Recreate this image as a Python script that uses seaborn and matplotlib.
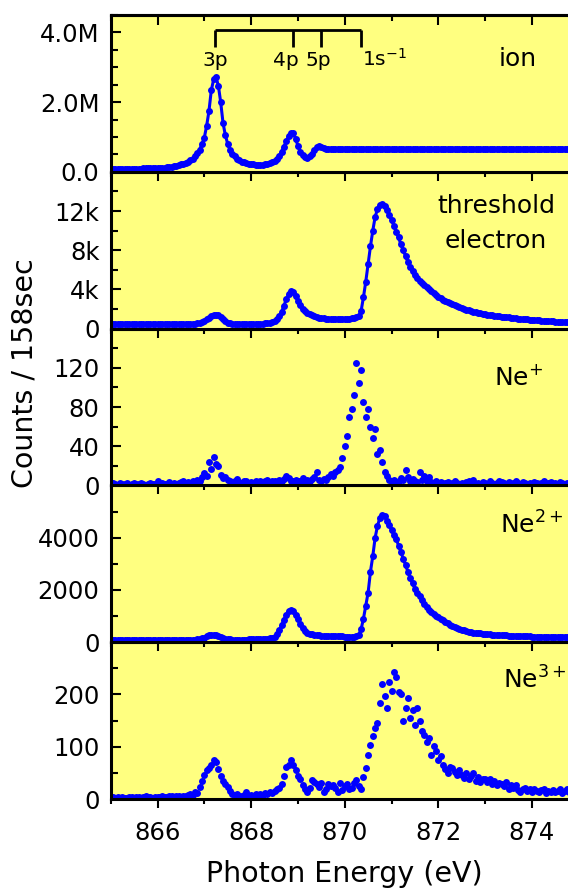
import numpy as np
import pandas as pd
import matplotlib
matplotlib.use("Agg")
import matplotlib.pyplot as plt
import seaborn as sns
from matplotlib.ticker import MultipleLocator

# photon energy scan grid (eV), 0.05 eV steps from 865.00 to 874.80
energy = np.round(865.0 + 0.05 * np.arange(197), 2)

# total ion yield (millions of counts)
ion_M = [
    0.08, 0.08, 0.08, 0.08, 0.08, 0.08, 0.08, 0.09, 0.09, 0.09,
    0.09, 0.09, 0.09, 0.09, 0.10, 0.10, 0.10, 0.10, 0.10, 0.11,
    0.11, 0.11, 0.12, 0.12, 0.13, 0.14, 0.15, 0.16, 0.17, 0.19,
    0.21, 0.23, 0.26, 0.29, 0.33, 0.37, 0.45, 0.53, 0.64, 0.80,
    0.98, 1.32, 1.75, 2.35, 2.65, 2.72, 2.47, 2.00, 1.40, 1.05,
    0.80, 0.62, 0.50, 0.44, 0.38, 0.33, 0.29, 0.27, 0.25, 0.23,
    0.22, 0.21, 0.20, 0.20, 0.20, 0.20, 0.21, 0.22, 0.24, 0.27,
    0.31, 0.37, 0.46, 0.58, 0.72, 0.88, 1.02, 1.10, 1.10, 0.95,
    0.75, 0.58, 0.47, 0.42, 0.41, 0.44, 0.52, 0.62, 0.70, 0.73,
    0.71, 0.67, 0.65, 0.65, 0.65, 0.65, 0.65, 0.65, 0.65, 0.65,
    0.65, 0.65, 0.65, 0.65, 0.65, 0.65, 0.65, 0.65, 0.65, 0.65,
    0.65, 0.65, 0.65, 0.65, 0.65, 0.65, 0.65, 0.65, 0.65, 0.65,
    0.65, 0.65, 0.65, 0.65, 0.65, 0.65, 0.65, 0.65, 0.65, 0.65,
    0.65, 0.65, 0.65, 0.65, 0.65, 0.65, 0.65, 0.65, 0.65, 0.65,
    0.65, 0.65, 0.65, 0.65, 0.65, 0.65, 0.65, 0.65, 0.65, 0.65,
    0.65, 0.65, 0.65, 0.65, 0.65, 0.65, 0.65, 0.66, 0.66, 0.66,
    0.66, 0.66, 0.66, 0.66, 0.66, 0.66, 0.66, 0.66, 0.66, 0.66,
    0.66, 0.66, 0.66, 0.66, 0.66, 0.66, 0.66, 0.66, 0.66, 0.66,
    0.66, 0.66, 0.66, 0.66, 0.66, 0.66, 0.66, 0.66, 0.66, 0.66,
    0.66, 0.66, 0.66, 0.66, 0.66, 0.66, 0.66,
]

# threshold electrons (thousands of counts)
threshold_k = [
    0.42, 0.42, 0.42, 0.42, 0.42, 0.42, 0.42, 0.42, 0.42, 0.42,
    0.42, 0.42, 0.43, 0.43, 0.43, 0.43, 0.43, 0.43, 0.43, 0.43,
    0.43, 0.43, 0.43, 0.44, 0.44, 0.44, 0.44, 0.45, 0.45, 0.46,
    0.46, 0.47, 0.47, 0.48, 0.49, 0.50, 0.52, 0.55, 0.60, 0.68,
    0.80, 0.95, 1.10, 1.25, 1.35, 1.40, 1.35, 1.15, 0.95, 0.75,
    0.62, 0.55, 0.50, 0.48, 0.47, 0.46, 0.46, 0.46, 0.46, 0.47,
    0.47, 0.48, 0.48, 0.49, 0.50, 0.52, 0.55, 0.58, 0.62, 0.68,
    0.75, 0.95, 1.25, 1.70, 2.30, 3.00, 3.50, 3.80, 3.75, 3.30,
    2.80, 2.40, 2.05, 1.80, 1.60, 1.45, 1.35, 1.25, 1.18, 1.12,
    1.08, 1.05, 1.03, 1.01, 1.00, 1.00, 0.99, 0.99, 1.00, 1.00,
    1.00, 1.01, 1.03, 1.05, 1.08, 1.15, 1.30, 1.80, 3.20, 4.80,
    6.60, 8.40, 10.0, 11.4, 12.2, 12.6, 12.7, 12.5, 12.1, 11.6,
    11.1, 10.5, 9.9, 9.3, 8.6, 8.0, 7.4, 6.8, 6.3, 5.9,
    5.5, 5.2, 4.9, 4.7, 4.45, 4.25, 4.0, 3.8, 3.6, 3.4,
    3.25, 3.1, 2.95, 2.85, 2.75, 2.6, 2.5, 2.4, 2.3, 2.2,
    2.1, 2.0, 1.93, 1.87, 1.8, 1.74, 1.68, 1.62, 1.57, 1.52,
    1.47, 1.43, 1.39, 1.35, 1.32, 1.29, 1.26, 1.23, 1.20, 1.17,
    1.14, 1.11, 1.08, 1.05, 1.02, 1.00, 0.98, 0.96, 0.94, 0.92,
    0.90, 0.88, 0.85, 0.83, 0.81, 0.79, 0.77, 0.76, 0.74, 0.73,
    0.71, 0.70, 0.69, 0.68, 0.67, 0.66, 0.65,
]

# Ne+ ion counts
ne1 = [
    1, 2, 1, 0, 2, 1, 1, 2, 0, 1,
    2, 1, 1, 2, 1, 0, 1, 2, 1, 1,
    4, 1, 2, 1, 1, 3, 1, 2, 1, 2,
    3, 5, 2, 3, 1, 4, 3, 6, 4, 9,
    13, 10, 24, 17, 29, 22, 20, 11, 8, 9,
    6, 5, 3, 4, 7, 3, 2, 5, 4, 2,
    3, 2, 4, 3, 5, 2, 4, 6, 3, 4,
    5, 3, 6, 4, 7, 10, 8, 5, 4, 6,
    5, 4, 8, 3, 6, 4, 7, 9, 14, 6,
    5, 7, 6, 9, 12, 10, 14, 16, 19, 28,
    40, 50, 70, 78, 92, 125, 105, 118, 85, 70,
    78, 60, 48, 58, 32, 36, 24, 14, 10, 6,
    4, 6, 3, 5, 8, 6, 16, 9, 4, 7,
    5, 3, 14, 6, 10, 4, 9, 3, 2, 4,
    2, 3, 1, 2, 3, 1, 2, 4, 2, 1,
    2, 1, 3, 5, 2, 6, 1, 2, 1, 3,
    2, 1, 4, 2, 1, 2, 5, 3, 2, 1,
    3, 1, 2, 4, 2, 1, 3, 2, 1, 2,
    1, 3, 2, 1, 2, 4, 1, 2, 3, 1,
    2, 1, 3, 2, 1, 2, 1,
]

# Ne2+ ion counts
ne2 = [
    70, 70, 70, 70, 70, 70, 70, 70, 70, 70,
    70, 70, 70, 70, 72, 72, 72, 72, 72, 74,
    74, 74, 75, 75, 76, 76, 78, 78, 80, 80,
    82, 84, 86, 88, 90, 95, 100, 110, 125, 150,
    180, 220, 260, 285, 290, 280, 240, 190, 150, 125,
    110, 105, 100, 100, 100, 100, 100, 102, 104, 106,
    108, 110, 112, 115, 118, 122, 128, 135, 145, 165,
    200, 300, 450, 650, 850, 1050, 1200, 1250, 1200, 1050,
    880, 700, 540, 430, 370, 330, 300, 285, 270, 260,
    255, 250, 245, 240, 235, 230, 228, 225, 222, 220,
    218, 215, 212, 210, 210, 220, 280, 500, 900, 1400,
    1900, 2700, 3300, 4000, 4450, 4750, 4880, 4820, 4650, 4480,
    4300, 4120, 3950, 3700, 3450, 3200, 2950, 2700, 2450, 2250,
    2050, 1900, 1750, 1620, 1480, 1350, 1250, 1150, 1080, 1020,
    960, 900, 840, 780, 720, 660, 610, 570, 540, 510,
    480, 455, 430, 410, 390, 370, 355, 345, 335, 325,
    315, 305, 298, 292, 286, 280, 275, 270, 265, 260,
    256, 252, 248, 244, 240, 236, 232, 228, 225, 222,
    218, 215, 212, 209, 206, 203, 200, 198, 196, 194,
    192, 190, 188, 186, 184, 182, 180,
]

# Ne3+ ion counts
ne3 = [
    2, 3, 1, 4, 2, 3, 2, 1, 3, 4,
    2, 3, 4, 2, 3, 5, 3, 4, 2, 3,
    4, 3, 5, 4, 3, 6, 5, 4, 6, 5,
    4, 6, 5, 7, 10, 8, 14, 12, 23, 35,
    46, 56, 60, 66, 75, 70, 58, 45, 35, 28,
    23, 16, 10, 7, 9, 6, 5, 8, 13, 6,
    7, 5, 9, 6, 10, 8, 12, 9, 14, 11,
    16, 19, 22, 29, 45, 62, 66, 75, 66, 56,
    45, 39, 26, 20, 13, 22, 36, 32, 28, 23,
    30, 13, 20, 29, 24, 26, 22, 13, 30, 17,
    24, 29, 19, 22, 30, 36, 24, 19, 42, 59,
    85, 104, 120, 136, 146, 184, 220, 197, 175, 224,
    207, 243, 233, 204, 200, 149, 175, 194, 155, 170,
    142, 175, 150, 130, 123, 110, 116, 85, 101, 92,
    75, 82, 66, 58, 49, 62, 59, 52, 46, 55,
    46, 40, 49, 39, 44, 49, 35, 42, 32, 38,
    39, 33, 39, 28, 34, 26, 30, 29, 24, 32,
    19, 26, 22, 26, 18, 13, 20, 22, 16, 19,
    13, 19, 15, 13, 18, 19, 12, 16, 13, 17,
    13, 15, 19, 11, 16, 19, 14,
]

# Rydberg series markers above the ion yield
level_names = ["3p", "4p", "5p", r"1s$^{-1}$"]
level_energy = [867.23, 868.89, 869.49, 870.35]
level_label_x = [867.23, 868.74, 869.44, 870.37]

panel_labels = ["ion", "threshold\nelectron", r"Ne$^{+}$", r"Ne$^{2+}$", r"Ne$^{3+}$"]

BLUE = "#0000FF"
YELLOW = "#FFFF80"

sns.set_theme(style="ticks")
plt.rcParams["font.family"] = ["DejaVu Sans"]
plt.rcParams["mathtext.default"] = "regular"
plt.rcParams["text.color"] = "black"
plt.rcParams["axes.labelcolor"] = "black"

series = [
    np.array(ion_M) * 1e6,
    np.array(threshold_k) * 1e3,
    np.array(ne1, dtype=float),
    np.array(ne2, dtype=float),
    np.array(ne3, dtype=float),
]
smooth = [True, True, False, True, False]
ylims = [(0, 4.5e6), (0, 16000), (0, 160), (0, 6000), (0, 300)]
yticks = [[0, 2e6, 4e6], [0, 4000, 8000, 12000], [0, 40, 80, 120], [0, 2000, 4000], [0, 100, 200]]
ytick_labels = [["0.0", "2.0M", "4.0M"], ["0", "4k", "8k", "12k"], ["0", "40", "80", "120"],
                ["0", "2000", "4000"], ["0", "100", "200"]]
yminor = [0.5e6, 2000, 20, 1000, 50]

fig, axes = plt.subplots(5, 1, sharex=True, figsize=(5.68, 8.88), dpi=100)
fig.subplots_adjust(left=0.1949, right=1.0189, top=0.9831, bottom=0.1002, hspace=0)

for i, ax in enumerate(axes):
    df = pd.DataFrame({"energy": energy, "counts": series[i]})
    ax.set_facecolor(YELLOW)
    ax.set_zorder(10 - i)
    if smooth[i]:
        sns.lineplot(data=df, x="energy", y="counts", ax=ax, color=BLUE, lw=2.2,
                     sort=False, errorbar=None, legend=False)
    sns.scatterplot(data=df, x="energy", y="counts", ax=ax, color=BLUE, s=25,
                    linewidth=0, legend=False)
    ax.set_xlim(865, 875)
    ax.set_ylim(*ylims[i])
    ax.set_yticks(yticks[i], ytick_labels[i])
    ax.yaxis.set_minor_locator(MultipleLocator(yminor[i]))
    ax.xaxis.set_major_locator(MultipleLocator(2))
    ax.xaxis.set_minor_locator(MultipleLocator(1))
    ax.set_xlabel("")
    ax.set_ylabel("")
    ax.tick_params(axis="y", which="both", direction="in", left=True, right=False,
                   width=1.5, labelsize=17.5, pad=8, colors="black")
    ax.tick_params(axis="y", which="major", length=7.2)
    ax.tick_params(axis="y", which="minor", length=4.7)
    ax.tick_params(axis="x", which="both", direction="out", bottom=True, top=False,
                   width=1.5, labelsize=17.5, pad=9, colors="black")
    ax.tick_params(axis="x", which="major", length=6.5)
    ax.tick_params(axis="x", which="minor", length=3.8)
    for side in ["left", "top", "bottom"]:
        ax.spines[side].set_linewidth(2.2)
        ax.spines[side].set_color("black")
    ax.spines["right"].set_visible(False)

# inward ticks along the very top
top = axes[0].secondary_xaxis("top")
top.xaxis.set_major_locator(MultipleLocator(2))
top.xaxis.set_minor_locator(MultipleLocator(1))
top.tick_params(which="both", direction="in", labeltop=False, width=1.5, colors="black")
top.tick_params(which="major", length=7.0)
top.tick_params(which="minor", length=4.2)
top.spines["top"].set_linewidth(2.2)

# level markers in the ion panel
ax0 = axes[0]
ax0.plot([level_energy[0], level_energy[-1]], [4.075e6, 4.075e6], color="black", lw=2.0,
         solid_capstyle="butt")
for e in level_energy:
    ax0.plot([e, e], [4.075e6, 3.57e6], color="black", lw=2.0, solid_capstyle="butt")
for name, x in zip(level_names[:3], level_label_x[:3]):
    ax0.text(x, 3.04e6, name, ha="center", va="baseline", fontsize=14.5)
ax0.text(level_label_x[3], 3.04e6, level_names[3], ha="left", va="baseline", fontsize=14.5)

# panel labels
axes[0].text(0.911, 0.672, panel_labels[0], transform=axes[0].transAxes,
             ha="right", va="baseline", fontsize=18)
for line, yb in zip(panel_labels[1].split("\n"), [0.738, 0.514]):
    axes[1].text(0.823, yb, line, transform=axes[1].transAxes,
                 ha="center", va="baseline", fontsize=18)
for ax, lab, xl, yb in zip(axes[2:], panel_labels[2:], [0.820, 0.832, 0.839], [0.641, 0.690, 0.707]):
    ax.text(xl, yb, lab, transform=ax.transAxes, ha="left", va="baseline", fontsize=18)

fig.text(0.6069, 0.0065, "Photon Energy (eV)", ha="center", va="baseline", fontsize=20.5)
fig.text(0.0423, 0.58, "Counts / 158sec", rotation=90, ha="center", va="center", fontsize=20.5)

fig.savefig("out.png", dpi=100)
